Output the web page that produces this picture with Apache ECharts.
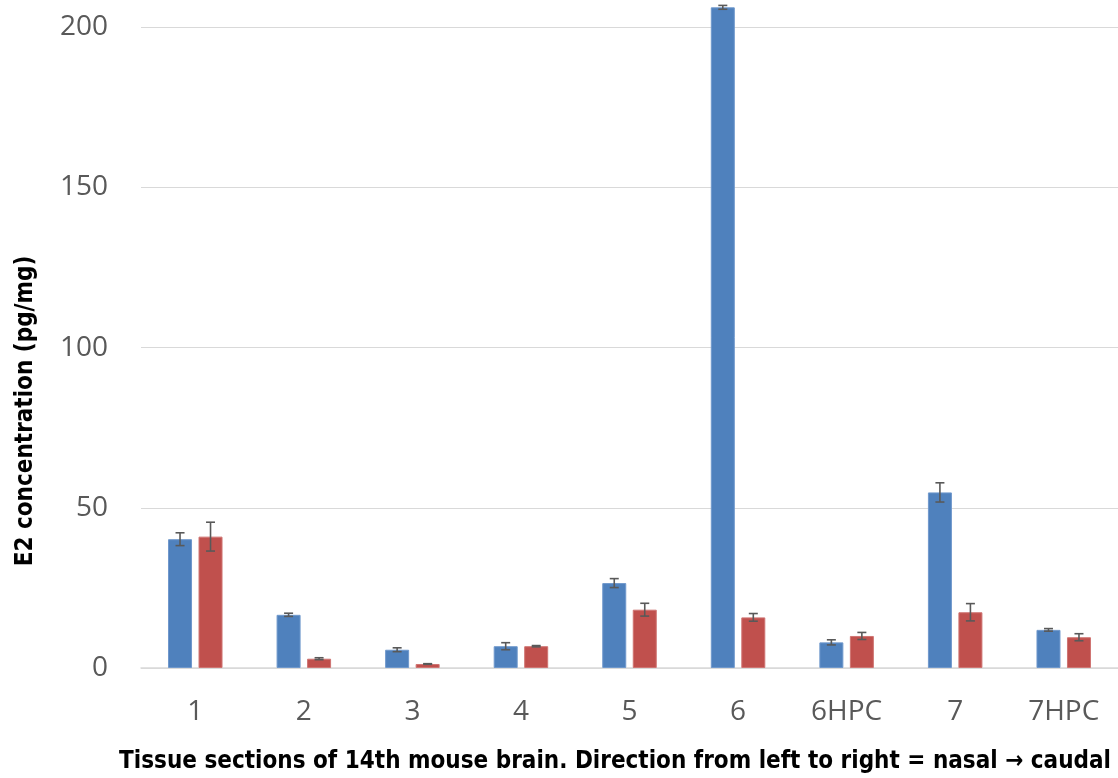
<!DOCTYPE html>
<html>
<head>
<meta charset="utf-8">
<script src="https://cdn.jsdelivr.net/npm/echarts@6/dist/echarts.min.js"></script>
<style>
  html, body { margin: 0; padding: 0; background: #ffffff; overflow: hidden; width: 1118px; height: 778px; }
  #chart { position: absolute; left: 0; top: -133px; width: 1118px; height: 911px; }
</style>
</head>
<body>
<div id="chart"></div>
<script>
// ---- Data ----
const categories = ['1', '2', '3', '4', '5', '6', '6HPC', '7', '7HPC'];
const blueValues = [40.2, 16.6, 5.7, 6.8, 26.5, 206.2, 8.0, 54.8, 11.9];
const blueErrors = [2.0, 0.5, 0.6, 1.1, 1.4, 0.6, 0.8, 3.0, 0.4];
const redValues  = [41.0, 2.9, 1.25, 6.8, 18.2, 15.8, 10.0, 17.4, 9.6];
const redErrors  = [4.5, 0.3, 0.1, 0.2, 2.0, 1.2, 1.1, 2.7, 1.1];
const yTicks = [0, 50, 100, 150, 200];

const xTitle = 'Tissue sections of 14th mouse brain. Direction from left to right = nasal \u2192 caudal';
const yTitle = 'E2 concentration (pg/mg)';

// ---- Styling ----
const BLUE = '#4F81BD';
const RED = '#C0504D';
const BAR_W = 24;
const BAR_GAP = 6.5;
const OFFSET = (BAR_W + BAR_GAP) / 2;
const SHIFT = 133; // chart container is shifted up by this many px
const TITLE_FONT = '"Liberation Sans Narrow", "DejaVu Sans Condensed", "Noto Sans", sans-serif';
const TICK_FONT = '"Open Sans", "Noto Sans", sans-serif';

function errorSeries(values, errors, offset) {
  const data = values.map((v, i) => [i, v, errors[i]]);
  return {
    type: 'custom',
    silent: true,
    z: 5,
    data: data,
    encode: { x: 0, y: 1 },
    renderItem: function (params, api) {
      const idx = api.value(0);
      const v = api.value(1);
      const e = api.value(2);
      const hi = api.coord([idx, v + e]);
      const lo = api.coord([idx, v - e]);
      const x = hi[0] + offset;
      const cap = 4.5;
      const style = { stroke: '#595959', lineWidth: 1.6, fill: null };
      return {
        type: 'group',
        children: [
          { type: 'line', shape: { x1: x, y1: hi[1], x2: x, y2: lo[1] }, style: style },
          { type: 'line', shape: { x1: x - cap, y1: hi[1], x2: x + cap, y2: hi[1] }, style: style },
          { type: 'line', shape: { x1: x - cap, y1: lo[1], x2: x + cap, y2: lo[1] }, style: style }
        ]
      };
    }
  };
}

const chart = echarts.init(document.getElementById('chart'), null, { renderer: 'canvas' });

chart.setOption({
  backgroundColor: '#ffffff',
  animation: false,
  grid: { left: 141, top: 0, bottom: 110, width: 982, containLabel: false },
  xAxis: {
    type: 'category',
    data: categories,
    axisLine: { show: true, lineStyle: { color: '#d9d9d9', width: 1.5 } },
    axisTick: { show: false },
    axisLabel: {
      color: '#595959',
      fontFamily: TICK_FONT,
      fontSize: 28,
      margin: 30
    },
    splitLine: { show: false }
  },
  yAxis: {
    type: 'value',
    min: 0,
    max: 250,
    interval: 50,
    axisLine: { show: false },
    axisTick: { show: false },
    axisLabel: {
      color: '#595959',
      fontFamily: TICK_FONT,
      fontSize: 28,
      margin: 33,
      formatter: function (v) { return yTicks.indexOf(v) >= 0 ? String(v) : ''; }
    },
    splitLine: { show: true, lineStyle: { color: '#d9d9d9', width: 1.2 } }
  },
  series: [
    {
      name: 'A',
      type: 'bar',
      data: blueValues,
      barWidth: BAR_W,
      barGap: (BAR_GAP / BAR_W * 100) + '%',
      itemStyle: { color: BLUE, borderColor: '#6f98cc', borderWidth: 1 },
      z: 2
    },
    {
      name: 'B',
      type: 'bar',
      data: redValues,
      barWidth: BAR_W,
      itemStyle: { color: RED, borderColor: '#cf7472', borderWidth: 1 },
      z: 2
    },
    errorSeries(blueValues, blueErrors, -OFFSET),
    errorSeries(redValues, redErrors, OFFSET)
  ],
  graphic: [
    {
      type: 'text',
      x: 615,
      y: 762 + SHIFT,
      style: {
        text: xTitle,
        x: 0,
        y: 0,
        align: 'center',
        verticalAlign: 'middle',
        fill: '#000000',
        font: 'bold 24px ' + TITLE_FONT
      }
    },
    {
      type: 'text',
      x: 26,
      y: 411 + SHIFT,
      rotation: Math.PI / 2,
      style: {
        text: yTitle,
        x: 0,
        y: 0,
        align: 'center',
        verticalAlign: 'middle',
        fill: '#000000',
        font: 'bold 24px ' + TITLE_FONT
      }
    }
  ]
});
</script>
</body>
</html>
